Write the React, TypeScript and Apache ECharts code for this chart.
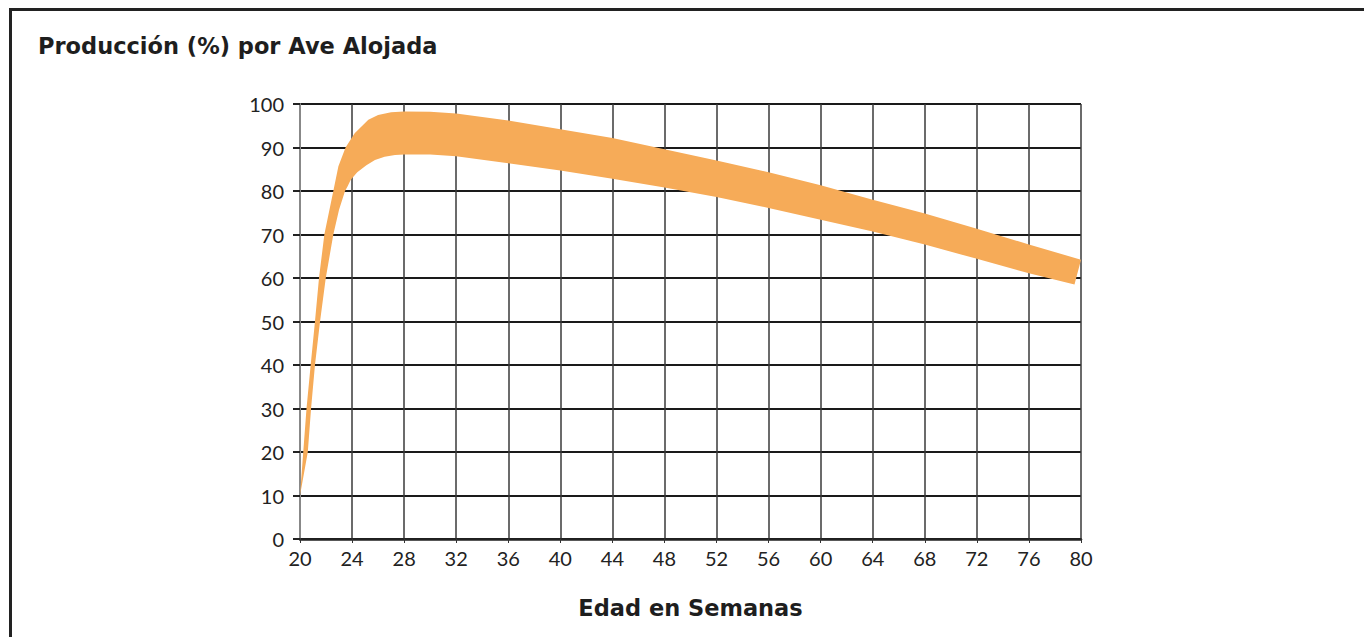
import React, { useEffect, useRef } from "react";
import * as echarts from "echarts";

const titleText = "Producción (%) por Ave Alojada";
const xAxisName = "Edad en Semanas";

// Upper edge of the production band (week, %)
const upperWeeks = [20, 20.25, 20.5, 20.82, 21.15, 21.46, 21.87, 22.56, 22.95, 23.5, 24.2, 25.25, 26.0, 27.0, 28, 30, 32, 36, 40, 44, 48, 52, 56, 60, 64, 68, 72, 76, 80];
const upperValues = [10, 20, 30, 40, 50, 60, 70, 80, 85.7, 90, 93.3, 96.4, 97.5, 98.1, 98.3, 98.2, 97.8, 96.2, 94.2, 92.2, 89.6, 87.0, 84.3, 81.3, 78.0, 74.8, 71.3, 67.7, 64.2];

// Lower edge of the production band (week, %)
const lowerWeeks = [20, 20.6, 20.85, 21.15, 21.54, 21.98, 22.56, 23.0, 23.46, 23.66, 23.9, 24.4, 25.1, 25.76, 26.5, 27.3, 28, 30, 32, 36, 40, 44, 48, 52, 56, 60, 64, 68, 72, 76, 79.5];
const lowerValues = [10, 20, 30, 40, 50, 60, 70, 75.7, 80, 81.1, 82.6, 84.3, 85.9, 87.1, 87.9, 88.3, 88.4, 88.4, 88.0, 86.4, 84.7, 82.8, 80.8, 78.6, 76.1, 73.4, 70.7, 67.7, 64.4, 61.1, 58.5];

const xMin = 20;
const xMax = 80;
const xStep = 4;
const yMin = 0;
const yMax = 100;
const yStep = 10;

export default function App() {
  const ref = useRef<HTMLDivElement>(null);

  useEffect(() => {
    if (!ref.current) return;
    const chart = echarts.init(ref.current, null, { renderer: "svg" });
    const font = "Lato, 'Noto Sans', sans-serif";
    const boldFont = "'DejaVu Sans', Lato, sans-serif";
    chart.setOption({
      animation: false,
      backgroundColor: "#ffffff",
      title: {
        text: titleText,
        left: 38,
        top: 34,
        padding: 0,
        textStyle: { fontFamily: boldFont, fontSize: 22.5, fontWeight: "bold", color: "#1e1e1e" },
      },
      graphic: [
        { type: "line", shape: { x1: 9, y1: 9.5, x2: 1364, y2: 9.5 }, style: { stroke: "#222", lineWidth: 3 } },
        { type: "line", shape: { x1: 10.5, y1: 8, x2: 10.5, y2: 637 }, style: { stroke: "#222", lineWidth: 3 } },
      ],
      grid: { left: 300, right: 283, top: 104, bottom: 98, containLabel: false },
      xAxis: {
        type: "value",
        min: xMin,
        max: xMax,
        interval: xStep,
        name: xAxisName,
        nameLocation: "middle",
        nameGap: 57,
        nameTextStyle: { fontFamily: boldFont, fontSize: 22.5, fontWeight: "bold", color: "#1e1e1e" },
        axisLine: { show: true, lineStyle: { color: "#222", width: 2.5 } },
        axisTick: { show: true, length: 4, lineStyle: { color: "#333", width: 1 } },
        axisLabel: { fontFamily: font, fontSize: 20, color: "#222", margin: 9 },
        splitLine: { show: true, lineStyle: { color: "#3a3a3a", width: 1.5 } },
      },
      yAxis: {
        type: "value",
        min: yMin,
        max: yMax,
        interval: yStep,
        axisLine: { show: true, lineStyle: { color: "#888", width: 2 } },
        axisTick: { show: true, length: 7, lineStyle: { color: "#222", width: 2 } },
        axisLabel: { fontFamily: font, fontSize: 20, color: "#222", margin: 16 },
        splitLine: { show: true, lineStyle: { color: "#1a1a1a", width: 2 } },
      },
      series: [
        {
          type: "custom",
          data: [[upperWeeks[0], upperValues[0]]],
          z: 1,
          renderItem: (_params: any, api: any) => {
            const pts: number[][] = [];
            for (let i = 0; i < upperWeeks.length; i++) pts.push(api.coord([upperWeeks[i], upperValues[i]]));
            for (let i = lowerWeeks.length - 1; i >= 0; i--) pts.push(api.coord([lowerWeeks[i], lowerValues[i]]));
            return {
              type: "polygon",
              shape: { points: pts },
              style: { fill: "#F6AB58", stroke: "none" },
            };
          },
        },
      ],
    });
    return () => chart.dispose();
  }, []);

  return (
    <div
      ref={ref}
      style={{ position: "fixed", left: 0, top: 0, width: 1364, height: 637, background: "#fff" }}
    />
  );
}
